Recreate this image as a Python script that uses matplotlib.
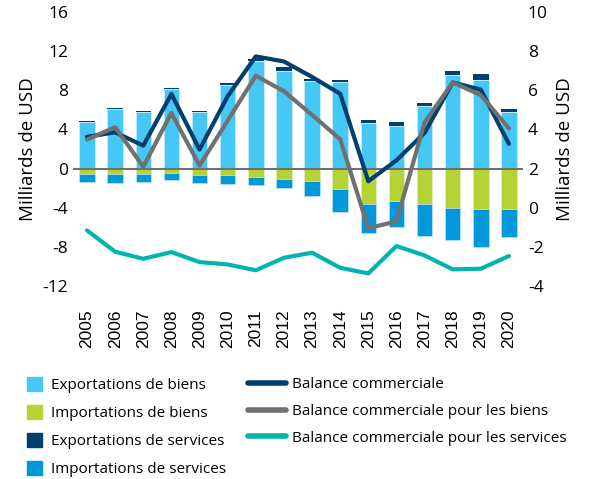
import numpy as np
import matplotlib.pyplot as plt
from matplotlib.lines import Line2D
from matplotlib.patches import Patch

plt.rcParams['font.family'] = ['Open Sans', 'DejaVu Sans']
plt.rcParams['axes.unicode_minus'] = False

years = [str(y) for y in range(2005, 2021)]

# barres (axe de gauche, milliards de USD)
export_biens = [4.77, 6.09, 5.78, 8.13, 5.75, 8.57, 10.95, 10.0, 8.9, 8.88, 4.69, 4.39, 6.36, 9.56, 9.08, 5.78]
export_services = [0.1, 0.13, 0.1, 0.14, 0.13, 0.14, 0.24, 0.34, 0.23, 0.2, 0.28, 0.37, 0.37, 0.44, 0.61, 0.31]
import_biens = [-0.58, -0.51, -0.51, -0.44, -0.68, -0.68, -0.85, -1.02, -1.29, -2.04, -3.67, -3.27, -3.67, -4.05, -4.18, -4.12]
import_services = [-0.82, -0.92, -0.82, -0.78, -0.82, -0.95, -0.85, -0.99, -1.47, -2.38, -2.89, -2.75, -3.2, -3.26, -3.81, -2.85]

# courbes (axe de droite)
balance = [3.62, 3.85, 3.17, 5.81, 2.97, 5.69, 7.73, 7.47, 6.68, 5.82, 1.35, 2.42, 3.82, 6.4, 6.03, 3.26]
balance_biens = [3.48, 4.11, 2.09, 4.84, 2.15, 4.45, 6.74, 5.95, 4.74, 3.5, -1.05, -0.7, 4.35, 6.4, 5.75, 4.05]
balance_services = [-1.16, -2.25, -2.61, -2.27, -2.78, -2.9, -3.2, -2.56, -2.3, -3.07, -3.36, -1.96, -2.44, -3.15, -3.12, -2.47]

c_exp_b = '#45C8F5'
c_imp_b = '#B5D334'
c_exp_s = '#003F6E'
c_imp_s = '#0098DA'
c_bal = '#003F6E'
c_bal_b = '#707070'
c_bal_s = '#00B5AD'

fig = plt.figure(figsize=(5.93, 4.79), dpi=100)
ax = fig.add_axes([0.123, 0.403, 0.759, 0.572])
x = np.arange(len(years))
w = 0.55

ax.bar(x, export_biens, w, color=c_exp_b, edgecolor='#d8eef8', linewidth=0.4)
ax.bar(x, export_services, w, bottom=export_biens, color=c_exp_s, linewidth=0)
ax.bar(x, import_biens, w, color=c_imp_b, edgecolor='#e6f0c8', linewidth=0.4)
ax.bar(x, import_services, w, bottom=import_biens, color=c_imp_s, edgecolor='#cfe8f5', linewidth=0.4)
ax.axhline(0, color='#707070', lw=1.5, zorder=1.5)

ax.set_xlim(-0.5, 15.5)
ax.set_ylim(-12, 16)
ax.set_yticks(range(-12, 17, 4))
ax.set_xticks(x)
ax.set_xticklabels(years, rotation=90, family='Liberation Sans', fontsize=13)
ax.tick_params(length=0, labelsize=12.5)
ax.tick_params(axis='x', pad=17)
ax.set_ylabel('Milliards de USD', fontsize=13.5, labelpad=4)
for s in ax.spines.values():
    s.set_visible(False)

ax2 = ax.twinx()
ax2.plot(x, balance, color=c_bal, lw=3, solid_capstyle='round', solid_joinstyle='round')
ax2.plot(x, balance_biens, color=c_bal_b, lw=3, solid_capstyle='round', solid_joinstyle='round')
ax2.plot(x, balance_services, color=c_bal_s, lw=3, solid_capstyle='round', solid_joinstyle='round')
ax2.set_ylim(-4, 10)
ax2.set_yticks(range(-4, 11, 2))
ax2.tick_params(length=0, labelsize=12.5)
ax2.set_ylabel('Milliards de USD', fontsize=13.5, labelpad=6)
for s in ax2.spines.values():
    s.set_visible(False)

h1 = [Patch(color=c) for c in (c_exp_b, c_imp_b, c_exp_s, c_imp_s)]
l1 = ['Exportations de biens', 'Importations de biens',
      'Exportations de services', 'Importations de services']
h2 = [Line2D([], [], color=c, lw=4, solid_capstyle='round') for c in (c_bal, c_bal_b, c_bal_s)]
l2 = ['Balance commerciale', 'Balance commerciale pour les biens',
      'Balance commerciale pour les services']

fig.legend(h1, l1, loc='upper left', bbox_to_anchor=(0.045, 0.213), frameon=False,
           fontsize=11, handlelength=1.0, handleheight=1.0, handletextpad=0.6,
           labelspacing=0.78, borderpad=0, borderaxespad=0)
fig.legend(h2, l2, loc='upper left', bbox_to_anchor=(0.418, 0.213), frameon=False,
           fontsize=11, handlelength=2.5, handletextpad=0.38,
           labelspacing=0.78, borderpad=0, borderaxespad=0)

fig.savefig('out.png', dpi=100)
